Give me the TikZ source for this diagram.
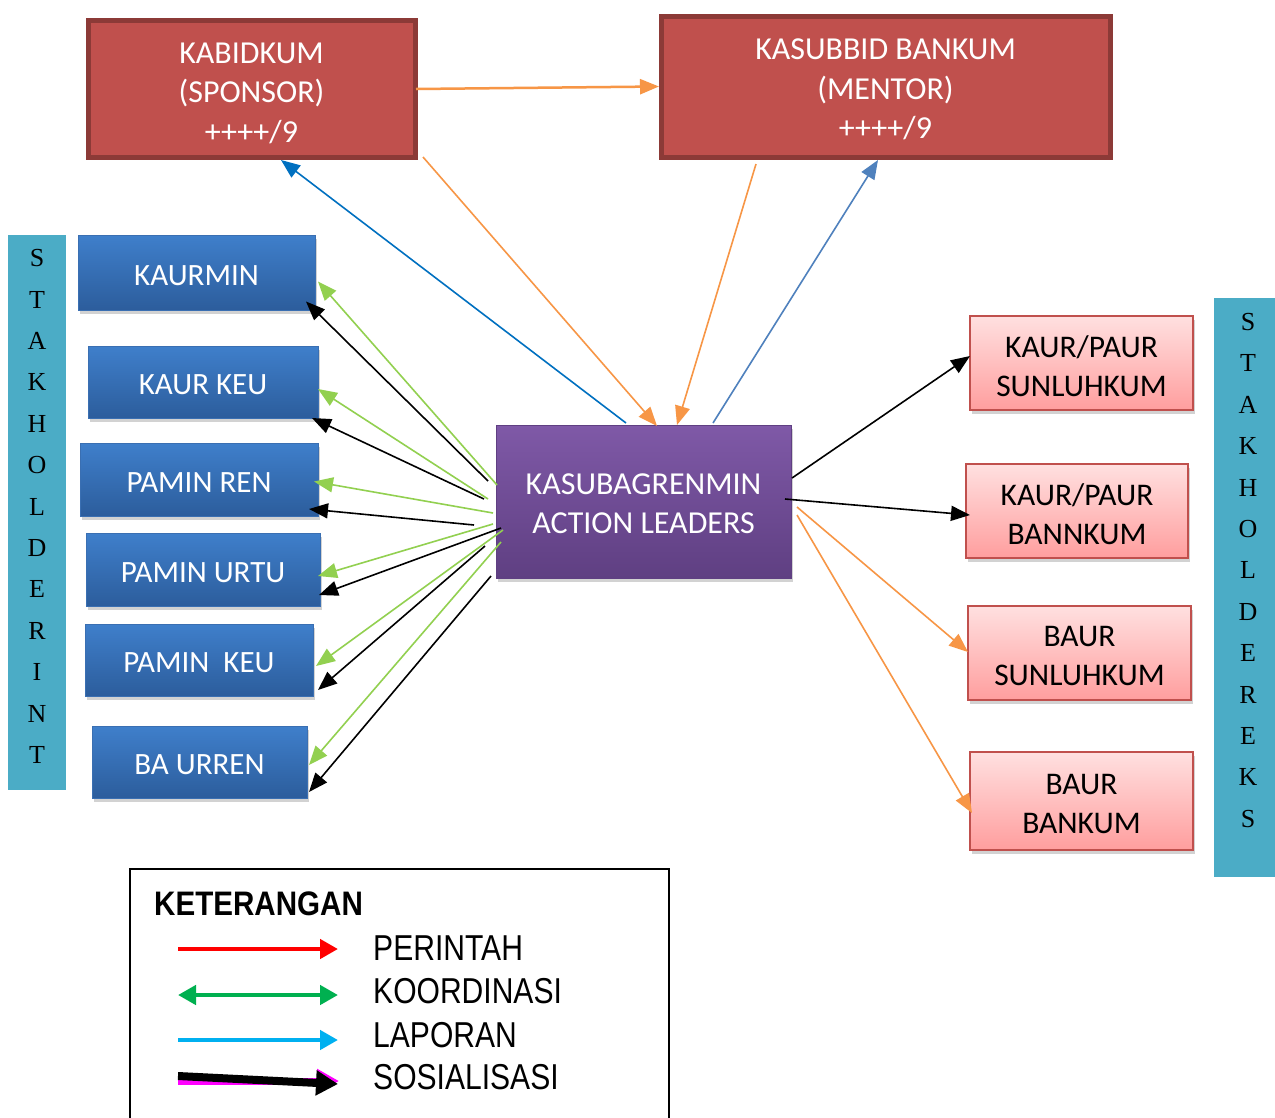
\documentclass[tikz,border=0pt]{standalone}
\usepackage{fontspec}
\setmainfont{Carlito}
\newfontfamily\stakfont{Liberation Serif}
\newfontfamily\legfont[FakeStretch=0.835]{Liberation Sans}
\newfontfamily\legbold[FakeStretch=0.87]{Liberation Sans}
\usetikzlibrary{arrows.meta,shadows}
\newcommand\lowtxt[2]{\raisebox{-#1}[\height][\depth]{#2}}
\definecolor{redfill}{HTML}{C0504D}
\definecolor{redborder}{HTML}{8C3A37}
\definecolor{bluetop}{HTML}{3F7FCB}
\definecolor{bluebot}{HTML}{2C5D9C}
\definecolor{blueline}{HTML}{3A6FB2}
\definecolor{purptop}{HTML}{7F59A7}
\definecolor{purpbot}{HTML}{5F3F82}
\definecolor{pinktop}{HTML}{FFE0E0}
\definecolor{pinkbot}{HTML}{FF9E9E}
\definecolor{pinkline}{HTML}{C0504D}
\definecolor{stakcol}{HTML}{4BACC6}
\definecolor{argreen}{HTML}{92D050}
\definecolor{arorange}{HTML}{F79646}
\definecolor{arblueA}{HTML}{0070C0}
\definecolor{arblueB}{HTML}{4F81BD}
\definecolor{legred}{HTML}{FF0000}
\definecolor{leggreen}{HTML}{00B050}
\definecolor{legcyan}{HTML}{00B0F0}
\definecolor{legmag}{HTML}{FF00FF}
\tikzset{
  topbox/.style={draw=redborder, line width=5pt, fill=redfill, text=white, align=center,
    font=\fontsize{32}{39.5}\selectfont, inner sep=0pt, outer sep=0pt},
  leftbox/.style={draw=blueline, line width=1pt, top color=bluetop, bottom color=bluebot,
    text=white, font=\fontsize{31}{38}\selectfont, inner sep=0pt, outer sep=0pt,
    drop shadow={shadow xshift=2pt, shadow yshift=-4pt, opacity=0.35}},
  centerbox/.style={draw=purpbot, line width=1pt, top color=purptop, bottom color=purpbot,
    text=white, align=center, font=\fontsize{32}{38.5}\selectfont, inner sep=0pt, outer sep=0pt,
    drop shadow={shadow xshift=2pt, shadow yshift=-4pt, opacity=0.35}},
  rightbox/.style={draw=pinkline, line width=1.8pt, top color=pinktop, bottom color=pinkbot,
    text=black, align=center, font=\fontsize{31.5}{39}\selectfont, inner sep=0pt, outer sep=0pt,
    drop shadow={shadow xshift=2pt, shadow yshift=-4pt, opacity=0.35}},
  stakbar/.style={fill=stakcol, inner sep=0pt, outer sep=0pt},
  stakletters/.style={font=\stakfont\fontsize{26}{41.4}\selectfont, align=center, inner sep=0pt},
  arr/.style={line width=1.6pt, -{Triangle[length=19pt 0 0,width=15pt 0 0]}},
  legtext/.style={anchor=base west, inner sep=0pt, font=\legfont\fontsize{36}{36}\selectfont},
  legarr/.style={line width=4.7pt, -{Triangle[length=18pt 0 0,width=19pt 0 0]}},
}
\begin{document}
\begin{tikzpicture}[x=1pt,y=-1pt]
\useasboundingbox (0,0) rectangle (1275,1117);
\fill[white] (0,0) rectangle (1275,1117);

% top boxes
\node[topbox, minimum width=327pt, minimum height=137pt] (kabid) at (251.5,88.5)
  {\lowtxt{4.5pt}{KABIDKUM}\\\lowtxt{4.5pt}{(SPONSOR)}\\\lowtxt{4.5pt}{++++/9}};
\node[topbox, minimum width=449pt, minimum height=141pt] (kasub) at (885.5,86.5)
  {\lowtxt{3pt}{KASUBBID BANKUM}\\\lowtxt{3pt}{(MENTOR)}\\\lowtxt{3pt}{++++/9}};

% stakeholder bars
\node[stakbar, minimum width=58pt, minimum height=555pt] (sint) at (37,512.5) {};
\node[stakletters] (sinttext) at (37,506.5) {S\\T\\A\\K\\H\\O\\L\\D\\E\\R\\I\\N\\T};
\node[stakbar, minimum width=61pt, minimum height=579pt] (seks) at (1244.5,587.5) {};
\node[stakletters] (sekstext) at (1248,570.5) {S\\T\\A\\K\\H\\O\\L\\D\\E\\R\\E\\K\\S};

% left boxes
\node[leftbox, minimum width=237pt, minimum height=75pt] (kaurmin) at (196.5,272.5) {\lowtxt{3.5pt}{KAURMIN}};
\node[leftbox, minimum width=230pt, minimum height=72pt] (kaurkeu) at (203,382) {\lowtxt{3pt}{KAUR KEU}};
\node[leftbox, minimum width=238pt, minimum height=73pt] (paminren) at (199,479.5) {\lowtxt{3pt}{PAMIN REN}};
\node[leftbox, minimum width=234pt, minimum height=73pt] (paminurtu) at (203,569.5) {\lowtxt{3pt}{PAMIN URTU}};
\node[leftbox, minimum width=228pt, minimum height=72pt] (paminkeu) at (199,660) {\lowtxt{3pt}{PAMIN~ KEU}};
\node[leftbox, minimum width=215pt, minimum height=72pt] (baurren) at (199.5,762) {\lowtxt{3pt}{BA URREN}};

% center
\node[centerbox, minimum width=295pt, minimum height=153pt] (center) at (643.5,501.5)
  {\lowtxt{2pt}{KASUBAGRENMIN}\\\lowtxt{2pt}{ACTION LEADERS}};

% right boxes
\node[rightbox, minimum width=223pt, minimum height=94pt] (r1) at (1081.5,363) {\lowtxt{3pt}{KAUR/PAUR}\\\lowtxt{3pt}{SUNLUHKUM}};
\node[rightbox, minimum width=222pt, minimum height=94pt] (r2) at (1077,511) {\lowtxt{3pt}{KAUR/PAUR}\\\lowtxt{3pt}{BANNKUM}};
\node[rightbox, minimum width=223pt, minimum height=94pt] (r3) at (1079.5,653) {\lowtxt{3pt}{BAUR}\\\lowtxt{3pt}{SUNLUHKUM}};
\node[rightbox, minimum width=223pt, minimum height=98pt] (r4) at (1081.5,801) {\lowtxt{3pt}{BAUR}\\\lowtxt{3pt}{BANKUM}};

% free-end coordinates (left fan)
\coordinate (g1s) at (497,485);
\coordinate (b1s) at (488,481);
\coordinate (g2s) at (488,499);
\coordinate (b2s) at (484,499);
\coordinate (g3s) at (493,513);
\coordinate (b3s) at (474,525);
\coordinate (g4s) at (493,524);
\coordinate (b4s) at (501,528);
\coordinate (g5s) at (503,530);
\coordinate (b5s) at (485,546);
\coordinate (g6s) at (501,542);
\coordinate (b6s) at (491,576);
% right fan
\coordinate (k1s) at (792,478);
\coordinate (k2s) at (785,499);
\coordinate (o1s) at (797,507);
\coordinate (o2s) at (797,515);

% left arrows
\draw[arr, argreen] (g1s) -- ([xshift=3pt,yshift=-9pt]kaurmin.east);
\draw[arr, black] (b1s) -- ([xshift=-9pt,yshift=-29pt]kaurmin.east);
\draw[arr, argreen] (g2s) -- ([yshift=-7pt]kaurkeu.east);
\draw[arr, black] (b2s) -- ([xshift=-6pt,yshift=-36pt]kaurkeu.east);
\draw[arr, argreen] (g3s) -- ([xshift=-4pt,yshift=-2pt]paminren.east);
\draw[arr, black] (b3s) -- ([xshift=-9pt,yshift=-29.5pt]paminren.east);
\draw[arr, argreen] (g4s) -- ([xshift=-2pt,yshift=-6.5pt]paminurtu.east);
\draw[arr, black] (b4s) -- ([xshift=-1pt,yshift=-25.5pt]paminurtu.east);
\draw[arr, argreen] (g5s) -- ([xshift=3pt,yshift=-6pt]paminkeu.east);
\draw[arr, black] (b5s) -- ([xshift=5pt,yshift=-30pt]paminkeu.east);
\draw[arr, argreen] (g6s) -- ([xshift=2pt,yshift=-3pt]baurren.east);
\draw[arr, black] (b6s) -- ([xshift=2pt,yshift=-30pt]baurren.east);

% right arrows
\draw[arr, black] (k1s) -- ([yshift=7pt]r1.west);
\draw[arr, black] (k2s) -- ([xshift=4pt,yshift=-4pt]r2.west);
\draw[arr, arorange] (o1s) -- ([yshift=1pt]r3.west);
\draw[arr, arorange] (o2s) -- ([xshift=2pt,yshift=-12pt]r4.west);

% top arrows
\draw[arr, arorange, line width=2.5pt] ([xshift=1pt,yshift=-0.5pt]kabid.east) -- ([xshift=-2pt]kasub.west);
\draw[arr, arblueA] ([xshift=-17.5pt,yshift=2pt]center.north) -- ([xshift=29.5pt,yshift=-3pt]kabid.south);
\draw[arr, arorange] ([xshift=8pt]kabid.south east) -- ([xshift=13.5pt,yshift=-1pt]center.north);
\draw[arr, arorange] ([xshift=-129.5pt,yshift=-7pt]kasub.south) -- ([xshift=33.5pt]center.north);
\draw[arr, arblueB] ([xshift=69.5pt,yshift=2pt]center.north) -- ([xshift=-7.5pt,yshift=-3pt]kasub.south);

% legend
\node[draw=black, line width=1.5pt, minimum width=539pt, minimum height=262pt, anchor=north west, inner sep=0pt] (legend) at (129,868) {};
\node[anchor=base west, inner sep=0pt, font=\legbold\bfseries\fontsize{34}{34}\selectfont] (ltitle) at (154,915) {KETERANGAN};
\node[legtext] (lperintah) at (373,960) {PERINTAH};
\node[legtext] (lkoord) at (373,1003.5) {KOORDINASI};
\node[legtext] (llapor) at (373,1047.3) {LAPORAN};
\node[legtext] (lsosial) at (373,1089.5) {SOSIALISASI};
\coordinate (lr1) at (178,949);
\coordinate (lr2) at (338,949);
\coordinate (lg1) at (178,995);
\coordinate (lg2) at (338,995);
\coordinate (lc1) at (178,1040);
\coordinate (lc2) at (338,1040);
\coordinate (lm1) at (178,1081);
\coordinate (lm2) at (339,1081);
\coordinate (lk1) at (178,1076);
\coordinate (lk2) at (338,1084);
\draw[legarr, legred] (lr1) -- (lr2);
\draw[line width=4.7pt, leggreen, {Triangle[length=18pt 0 0,width=19pt 0 0]}-{Triangle[length=18pt 0 0,width=19pt 0 0]}] (lg1) -- (lg2);
\draw[legarr, legcyan] (lc1) -- (lc2);
\draw[line width=7pt, legmag, -{Triangle[length=22pt 0 0,width=23pt 0 0]}] (lm1) -- (lm2);
\draw[line width=8pt, black, -{Triangle[length=22pt 0 0,width=24pt 0 0]}] (lk1) -- (lk2);
\end{tikzpicture}
\end{document}
